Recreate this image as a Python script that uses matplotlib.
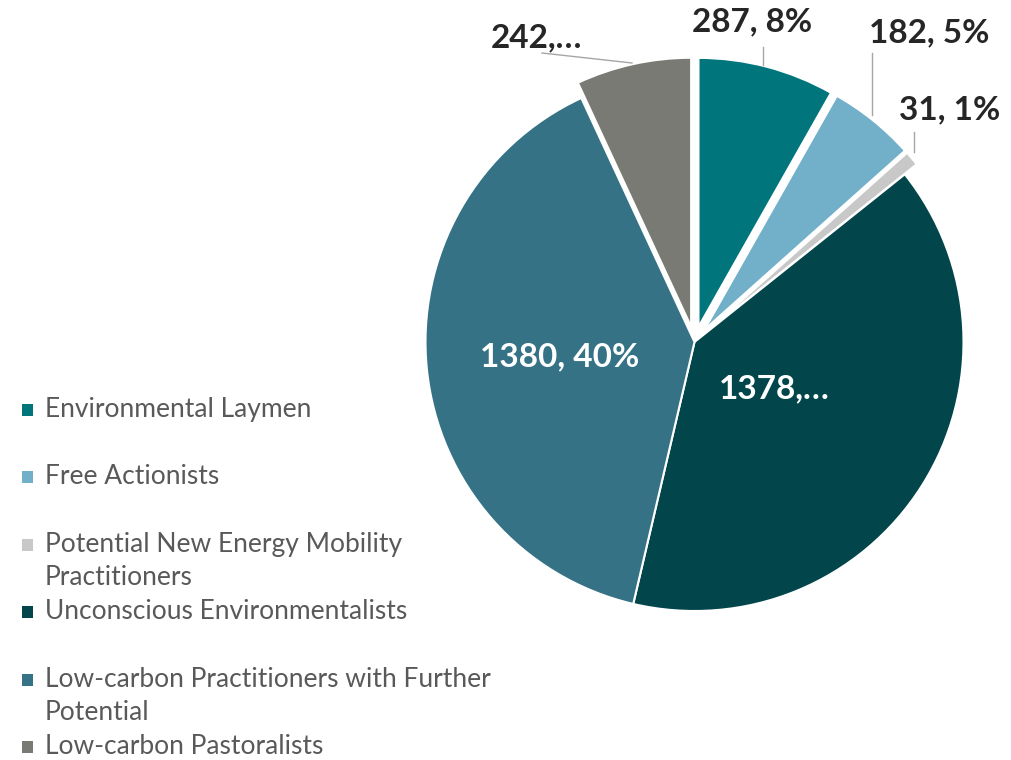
import matplotlib
matplotlib.use("Agg")
import matplotlib.pyplot as plt
from matplotlib.patches import Rectangle

# ---------------- data ----------------
categories = [
    "Environmental Laymen",
    "Free Actionists",
    "Potential New Energy Mobility\nPractitioners",
    "Unconscious Environmentalists",
    "Low-carbon Practitioners with Further\nPotential",
    "Low-carbon Pastoralists",
]
values = [287, 182, 31, 1378, 1380, 242]
percents = [8, 5, 1, 39, 40, 7]                     # as printed in the source labels
truncated = [False, False, False, True, False, True]  # labels cut off ("…") in the source

colors = ["#00757C", "#72B0C9", "#C8C8C8", "#02464C", "#357286", "#797A74"]
explode = [0.058, 0.058, 0.058, 0.0, 0.0, 0.058]

# ---------------- layout ----------------
W, H, DPI = 1012, 760, 100
fig = plt.figure(figsize=(W / DPI, H / DPI), dpi=DPI)
FONT = "Lato"

cx, cy, r = 694.5, 342.0, 269.0   # pie centre / radius in pixels
L = 1.2                              # axes half-extent in data units
ax = fig.add_axes([(cx - L * r) / W, (H - cy - L * r) / H, 2 * L * r / W, 2 * L * r / H])

wedges, _ = ax.pie(values, colors=colors, explode=explode, startangle=90,
                   counterclock=False, radius=1.0,
                   wedgeprops=dict(edgecolor="white", linewidth=1.5))
ax.set_xlim(-L, L)
ax.set_ylim(-L, L)
ax.set_aspect("equal")
ax.axis("off")


def px(x, y):
    return ((x - cx) / r, (cy - y) / r)


label_texts = []
for v, p, t in zip(values, percents, truncated):
    label_texts.append(f"{v},…" if t else f"{v}, {p}%")

# label centres (pixels), colours and leader lines
label_pos = [(752, 22), (929, 33), (950, 110), (774, 389), (560, 357), (536, 38)]
label_col = ["#262626", "#262626", "#262626", "white", "white", "#262626"]
leaders = [((763, 47), (763, 65)), ((872, 53), (872, 115)), ((914, 132), (914, 152)),
           None, None, ((542, 53), (632, 63))]

for txt, pos, col, ld in zip(label_texts, label_pos, label_col, leaders):
    x, y = px(*pos)
    ax.text(x, y, txt, ha="center", va="center", fontsize=24, fontweight="bold",
            color=col, family=FONT, clip_on=False)
    if ld is not None:
        (x0, y0), (x1, y1) = px(*ld[0]), px(*ld[1])
        ax.plot([x0, x1], [y0, y1], color="#A6A6A6", lw=1.0, clip_on=False)

# ---------------- legend ----------------
base0, pitch, line_h = 417, 67.4, 33
for i, (cat, col) in enumerate(zip(categories, colors)):
    b = base0 + i * pitch
    fig.patches.append(Rectangle((22 / W, (H - b + 1) / H), 11 / W, 12 / H,
                                 transform=fig.transFigure, facecolor=col,
                                 edgecolor="none"))
    for k, line in enumerate(cat.split("\n")):
        fig.text(45 / W, (H - b - k * line_h) / H, line, ha="left", va="baseline",
                 fontsize=19, color="#595959", family=FONT)

fig.savefig("out.png", dpi=DPI)
